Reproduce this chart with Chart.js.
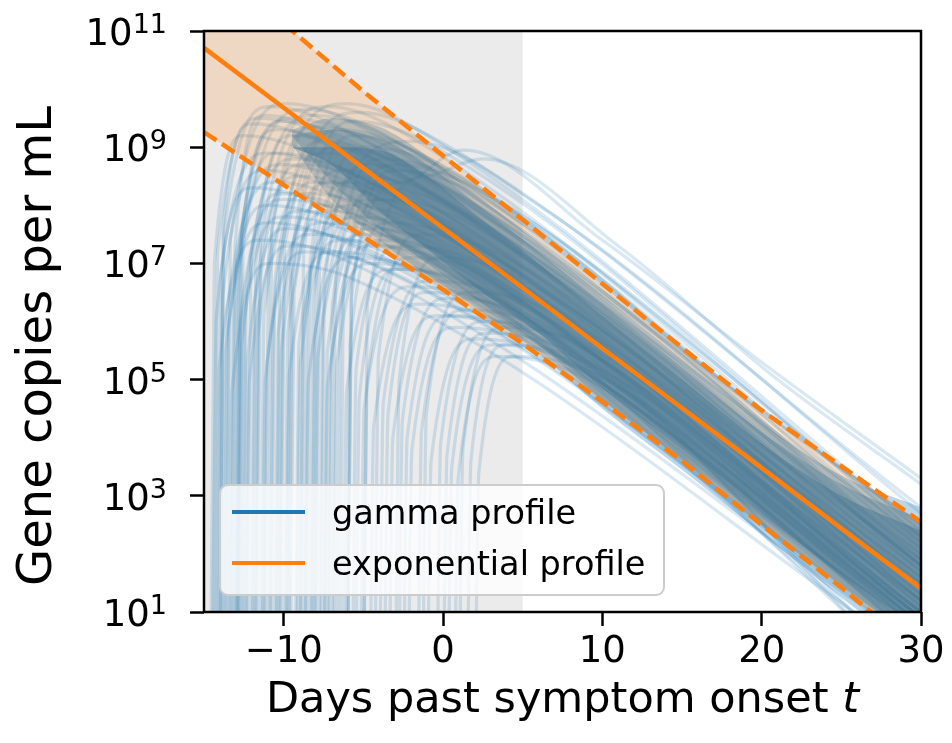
<!DOCTYPE html>
<html>
<head>
<meta charset="utf-8">
<script src="https://cdn.jsdelivr.net/npm/chart.js@4.4.1/dist/chart.umd.min.js"></script>
<style>
  html, body { margin: 0; padding: 0; background: #fff; }
  canvas { display: block; }
</style>
</head>
<body>
<canvas id="viral" width="952" height="743"></canvas>
<script>
/* viral load: sampled gamma profiles vs. fitted exponential decay */

// all loads are log10(copies / mL)
const FIT_DAYS = [-15, -10, -5, 0, 5, 10, 15, 20, 25, 30];
const FIT_MID  = [10.71, 9.68, 8.64, 7.61, 6.58, 5.54, 4.51, 3.48, 2.44, 1.41];
const FIT_HI   = [12.35, 11.13, 9.96, 8.855, 7.75, 6.65, 5.55, 4.47, 3.51, 2.55];
const FIT_LO   = [9.26, 8.35, 7.46, 6.55, 5.62, 4.62, 3.60, 2.50, 1.42, 0.30];

// where the sampled profiles pile up (three density levels)
const CORE_DAYS   = [-9.5, -7, -4, -1, 2, 6, 10, 15, 20, 25, 30];
const CORE_OUT_HI = [9.3, 9.5, 9.35, 8.85, 8.2, 7.35, 6.45, 5.35, 4.25, 3.35, 2.8];
const CORE_OUT_LO = [9.05, 8.1, 7.4, 6.8, 6.25, 5.45, 4.5, 3.45, 2.35, 1.25, 0.2];
const CORE_MID_HI = [9.2, 9.3, 9.15, 8.7, 8.05, 7.2, 6.3, 5.2, 4.1, 3.2, 2.6];
const CORE_MID_LO = [9.2, 8.4, 7.6, 7.0, 6.4, 5.6, 4.65, 3.6, 2.5, 1.45, 0.45];
const CORE_IN_HI  = [9.0, 9.0, 8.95, 8.5, 7.85, 7.0, 6.1, 5.0, 3.9, 3.0, 2.4];
const CORE_IN_LO  = [9.0, 8.7, 7.9, 7.25, 6.6, 5.8, 4.85, 3.8, 2.7, 1.65, 0.7];

// individual gamma profiles: day, load, day, load, ...
const PROFILES = [
  [-14.4,-1, -14.15,7.2, -11.5,9.5, -6.5,9.1, 30,2.3],
  [-14.0,-1, -13.75,7.5, -10.8,9.7, -5.8,9.25, 30,2.5],
  [-13.6,-1, -13.35,7.4, -9.8,9.75, -4.8,9.3, 30,2.1],
  [-13.2,-1, -12.95,7.0, -9.5,9.5, -4.5,9.05, 30,1.8],
  [-12.8,-1, -12.55,7.3, -8.6,9.65, -3.6,9.2, 30,2.2],
  [-12.3,-1, -12.05,7.1, -8.0,9.55, -3.0,9.1, 30,1.9],
  [-11.7,-1, -11.45,7.4, -7.2,9.7, -2.2,9.2, 30,2.2],
  [-11.0,-1, -10.75,7.6, -6.0,9.75, -1.0,9.2, 30,2.4],
  [-10.2,-1, -9.95,7.3, -5.2,9.6, -0.2,9.1, 30,2.8],
  [-6.0,-1, -5.75,6.6, -2.5,8.4, 1.3,8.95, 10,7.4, 20,5.3, 30,3.3],
  [-5.0,-1, -4.75,6.3, -1.0,8.5, 2.5,8.8, 11,7.3, 21,5.0, 30,3.2],
  [-8.0,-1, -7.75,7.0, -2.0,9.1, 6.0,8.0, 30,2.7],
  [-14.5,-1, -14.25,6.0, -12.0,8.3, -7.0,7.95, 30,1.0],
  [-14.2,-1, -13.95,6.8, -11.0,8.9, -6.0,8.5, 30,1.5],
  [-13.8,-1, -13.55,6.2, -10.5,8.4, -5.5,8.0, 30,1.2],
  [-13.4,-1, -13.15,6.5, -10.2,8.7, -5.2,8.3, 30,1.4],
  [-13.0,-1, -12.75,6.0, -10.0,8.1, -5.0,7.75, 30,0.8],
  [-12.6,-1, -12.35,6.6, -9.3,8.8, -4.3,8.4, 30,1.6],
  [-12.1,-1, -11.85,6.3, -9.0,8.5, -4.0,8.1, 30,1.3],
  [-11.5,-1, -11.25,6.1, -8.5,8.2, -3.5,7.85, 30,1.0],
  [-10.8,-1, -10.55,6.7, -7.5,8.9, -2.5,8.45, 30,1.7],
  [-10.3,-1, -10.05,6.2, -7.0,8.4, -2.0,8.0, 30,1.1],
  [-9.6,-1, -9.35,6.5, -6.3,8.6, -1.3,8.2, 30,1.4],
  [-9.0,-1, -8.75,6.0, -5.8,8.0, -0.8,7.6, 30,0.9],
  [-8.4,-1, -8.15,6.4, -5.0,8.5, 0.0,8.1, 30,1.6],
  [-7.8,-1, -7.55,6.1, -4.5,8.1, 0.5,7.7, 30,1.2],
  [-7.2,-1, -6.95,6.3, -4.0,8.3, 1.0,7.9, 30,1.5],
  [-14.3,-1, -14.05,5.2, -11.5,7.4, -6.5,7.1, 30,0.4],
  [-13.9,-1, -13.65,5.5, -11.0,7.7, -6.0,7.35, 30,0.7],
  [-13.5,-1, -13.25,4.8, -10.8,7.0, -5.8,6.75, 30,0.2],
  [-12.9,-1, -12.65,5.6, -10.0,7.8, -5.0,7.45, 30,0.8],
  [-12.4,-1, -12.15,5.0, -9.6,7.3, -4.6,7.0, 30,0.5],
  [-11.9,-1, -11.65,5.7, -9.0,7.9, -4.0,7.55, 30,0.9],
  [-11.3,-1, -11.05,5.3, -8.3,7.5, -3.3,7.15, 30,0.6],
  [-10.6,-1, -10.35,5.8, -7.6,8.0, -2.6,7.6, 30,1.0],
  [-9.9,-1, -9.65,5.1, -7.0,7.2, -2.0,6.9, 30,0.5],
  [-9.3,-1, -9.05,5.6, -6.3,7.7, -1.3,7.35, 30,0.9],
  [-8.7,-1, -8.45,5.0, -5.7,7.1, -0.7,6.8, 30,0.6],
  [-8.1,-1, -7.85,5.4, -5.0,7.5, 0.0,7.15, 30,0.9],
  [-7.5,-1, -7.25,4.9, -4.5,7.0, 0.5,6.7, 30,0.6],
  [-6.9,-1, -6.65,5.3, -3.8,7.4, 1.2,7.05, 30,1.0],
  [-6.3,-1, -6.05,4.8, -3.2,6.9, 1.8,6.6, 30,0.7],
  [-5.7,-1, -5.45,5.2, -2.6,7.3, 2.4,7.0, 30,1.1],
  [-5.2,-1, -4.95,4.5, -2.0,6.6, 3.0,6.3, 30,0.8],
  [-4.6,-1, -4.35,4.2, -1.5,6.3, 3.5,6.0, 30,0.6],
  [-4.0,-1, -3.75,4.6, -0.8,6.7, 4.2,6.4, 30,1.0],
  [-3.4,-1, -3.15,4.0, -0.3,6.1, 4.7,5.8, 30,0.5],
  [-2.8,-1, -2.55,4.3, 0.3,6.4, 5.3,6.1, 30,0.9],
  [-2.2,-1, -1.95,3.8, 0.8,5.9, 5.8,5.6, 30,0.5],
  [-1.6,-1, -1.35,4.1, 1.4,6.2, 6.4,5.9, 30,0.9],
  [-1.0,-1, -0.75,3.6, 2.0,5.7, 7.0,5.4, 30,0.5],
  [-0.4,-1, -0.15,3.9, 2.6,6.0, 7.6,5.7, 30,0.9],
  [0.3,-1, 0.55,3.5, 3.2,5.6, 8.2,5.3, 30,0.6],
  [1.0,-1, 1.25,3.8, 3.8,5.9, 8.8,5.6, 30,1.0],
  [2.0,-1, 2.25,3.4, 4.5,5.4, 9.5,5.1, 30,0.7],
  [-14.6,-1, -14.35,7.0, -12.5,9.2, -7.5,8.8, 30,1.9],
  [-13.0,-1, -12.75,7.2, -10.5,9.3, -5.5,8.9, 30,2.0],
  [-12.0,-1, -11.75,7.0, -9.5,9.2, -4.5,8.8, 30,1.8],
  [-11.2,-1, -10.95,7.1, -8.0,9.35, -3.0,8.95, 30,2.0],
  [-10.5,-1, -10.25,6.9, -7.6,9.1, -2.6,8.7, 30,1.8],
  [-9.8,-1, -9.55,7.0, -6.5,9.3, -1.5,8.9, 30,2.1],
  [-9.0,-1, -8.75,7.2, -5.5,9.45, -0.5,9.0, 30,2.3],
  [-8.2,-1, -7.95,6.8, -4.8,9.0, 0.2,8.6, 30,1.9],
  [-7.0,-1, -6.75,6.7, -3.8,8.8, 1.2,8.4, 30,1.8],
  [-6.0,-1, -5.75,6.4, -3.0,8.6, 2.0,8.2, 30,1.7],
  [-14.0,-1, -13.8,7.6, -12.0,9.4, -7.0,9.0, 30,1.6],
  [-13.3,-1, -13.05,7.3, -11.2,9.55, -6.2,9.1, 30,1.7],
  [-12.7,-1, -12.45,6.0, -10.2,8.2, -5.2,7.8, 30,0.0],
  [-10.0,-1, -9.75,5.8, -7.2,7.9, -2.2,7.5, 30,-0.2],
  [-7.5,-1, -7.25,5.5, -4.5,7.6, 0.5,7.2, 30,-0.1],
  [-5.0,-1, -4.75,5.0, -2.0,7.1, 3.0,6.75, 30,-0.3],
  [-12.9,-1, -12.65,7.5, -10.0,9.45, -5.0,9.0, 30,2.5],
  [-8.6,-1, -8.35,7.0, -5.5,9.2, -0.5,8.75, 30,2.4],
  [-6.5,-1, -6.25,6.6, -3.0,8.7, 2.0,8.3, 30,2.3],
  [-14.1,-1, -13.85,6.4, -11.2,8.6, -6.2,8.2, 30,1.2],
  [-13.7,-1, -13.45,5.9, -11.0,8.0, -6.0,7.65, 30,0.9],
  [-13.1,-1, -12.85,6.7, -10.4,8.9, -5.4,8.5, 30,1.5],
  [-12.5,-1, -12.25,5.4, -9.8,7.6, -4.8,7.25, 30,0.7],
  [-11.8,-1, -11.55,6.5, -8.8,8.7, -3.8,8.3, 30,1.4],
  [-11.4,-1, -11.15,5.0, -8.6,7.2, -3.6,6.9, 30,0.4],
  [-10.9,-1, -10.65,6.2, -8.0,8.4, -3.0,8.0, 30,1.2],
  [-10.4,-1, -10.15,5.5, -7.6,7.7, -2.6,7.35, 30,0.8],
  [-9.7,-1, -9.45,6.8, -6.8,9.0, -1.8,8.6, 30,1.8],
  [-9.2,-1, -8.95,5.3, -6.4,7.4, -1.4,7.1, 30,0.7],
  [-8.8,-1, -8.55,6.3, -5.9,8.4, -0.9,8.0, 30,1.3],
  [-8.3,-1, -8.05,5.7, -5.5,7.8, -0.5,7.45, 30,1.0],
  [-7.7,-1, -7.45,6.6, -4.8,8.7, 0.2,8.3, 30,1.8],
  [-7.3,-1, -7.05,5.2, -4.6,7.3, 0.4,7.0, 30,0.8],
  [-6.7,-1, -6.45,6.0, -3.8,8.1, 1.2,7.75, 30,1.4],
  [-6.1,-1, -5.85,5.6, -3.4,7.7, 1.6,7.35, 30,1.2],
  [-5.5,-1, -5.25,4.7, -2.8,6.9, 2.2,6.6, 30,0.8],
  [-4.3,-1, -4.05,5.4, -1.4,7.5, 3.6,7.15, 30,1.3],
  [-3.7,-1, -3.45,4.4, -1.0,6.5, 4.0,6.2, 30,0.8],
  [-3.0,-1, -2.75,5.0, -0.2,7.1, 4.8,6.75, 30,1.2],
  [-2.5,-1, -2.25,4.0, 0.5,6.1, 5.5,5.8, 30,0.7],
  [-1.3,-1, -1.05,4.4, 1.6,6.5, 6.6,6.2, 30,1.1],
  [0.0,-1, 0.25,3.7, 2.8,5.8, 7.8,5.5, 30,0.8],
  [0.7,-1, 0.95,3.3, 3.4,5.4, 8.4,5.1, 30,0.5],
  [1.5,-1, 1.75,3.6, 4.0,5.6, 9.0,5.3, 30,0.9]
];

const X_TICKS = [-10, 0, 10, 20, 30];
const Y_EXPONENTS = [1, 3, 5, 7, 9, 11];
const PRESYMPTOM = [-15, 5];   // shaded window, days

const BLUE = '#1f77b4', ORANGE = '#ff7f0e';
const FONT = "'DejaVu Sans', sans-serif";

const toPoints = (xs, logs) => xs.map((x, i) => ({ x, y: Math.pow(10, logs[i]) }));
function knots(flat) {
  const out = [];
  for (let i = 0; i < flat.length; i += 2) out.push({ x: flat[i], y: Math.pow(10, flat[i + 1]) });
  return out;
}

const dashed = { borderColor: ORANGE, borderWidth: 4.5, borderDash: [15, 6.5], order: 1, clip: 0 };
const hidden = { borderColor: 'transparent', borderWidth: 0, cubicInterpolationMode: 'monotone', order: 2, clip: 0 };
const coreFill = a => 'rgba(31,119,180,' + a + ')';

const datasets = [
  { data: toPoints(FIT_DAYS, FIT_MID), borderColor: ORANGE, borderWidth: 4.5, order: 0, clip: 0 },
  { ...dashed, data: toPoints(FIT_DAYS, FIT_HI), fill: 2, backgroundColor: 'rgba(255,127,14,0.18)' },
  { ...dashed, data: toPoints(FIT_DAYS, FIT_LO) },
  { ...hidden, data: toPoints(CORE_DAYS, CORE_OUT_HI), fill: 4, backgroundColor: coreFill(0.3) },
  { ...hidden, data: toPoints(CORE_DAYS, CORE_OUT_LO) },
  { ...hidden, data: toPoints(CORE_DAYS, CORE_MID_HI), fill: 6, backgroundColor: coreFill(0.35) },
  { ...hidden, data: toPoints(CORE_DAYS, CORE_MID_LO) },
  { ...hidden, data: toPoints(CORE_DAYS, CORE_IN_HI), fill: 8, backgroundColor: coreFill(0.5) },
  { ...hidden, data: toPoints(CORE_DAYS, CORE_IN_LO) },
  ...PROFILES.map(p => ({
    data: knots(p), borderColor: 'rgba(31,119,180,0.17)', borderWidth: 3.2,
    cubicInterpolationMode: 'monotone', order: 3, clip: 0
  }))
];

function drawLegend(ctx) {
  const x = 220, y = 485, w = 444, h = 110, r = 8;
  ctx.save();
  ctx.beginPath();
  ctx.roundRect(x, y, w, h, r);
  ctx.fillStyle = 'rgba(255,255,255,0.8)';
  ctx.fill();
  ctx.lineWidth = 2;
  ctx.strokeStyle = '#cccccc';
  ctx.stroke();
  const rows = [['gamma profile', BLUE, 512], ['exponential profile', ORANGE, 563]];
  ctx.font = '33.5px ' + FONT;
  ctx.textBaseline = 'alphabetic';
  ctx.textAlign = 'left';
  rows.forEach(([text, color, ly]) => {
    ctx.beginPath();
    ctx.moveTo(232, ly); ctx.lineTo(305, ly);
    ctx.lineWidth = 4; ctx.strokeStyle = color; ctx.stroke();
    ctx.fillStyle = '#000';
    ctx.fillText(text, 332, ly + 12);
  });
  ctx.restore();
}

const frame = {
  id: 'frame',
  beforeDatasetsDraw(chart) {
    const { ctx, chartArea: a, scales: { x } } = chart;
    const x0 = x.getPixelForValue(PRESYMPTOM[0]), x1 = x.getPixelForValue(PRESYMPTOM[1]);
    ctx.save();
    ctx.fillStyle = '#ebebeb';
    ctx.fillRect(x0, a.top, x1 - x0, a.bottom - a.top);
    ctx.restore();
  },
  afterDatasetsDraw(chart) {
    const { ctx, chartArea: a } = chart;
    ctx.save();
    ctx.lineWidth = 2.5;
    ctx.strokeStyle = '#000';
    ctx.strokeRect(a.left, a.top, a.right - a.left, a.bottom - a.top);
    ctx.restore();
  },
  afterDraw(chart) {
    const { ctx, chartArea: a, scales: { y } } = chart;
    ctx.save();
    ctx.fillStyle = '#000';
    ctx.textBaseline = 'alphabetic';
    ctx.textAlign = 'left';
    // y tick labels as 10^n
    const right = a.left - 37;
    Y_EXPONENTS.forEach(e => {
      const py = y.getPixelForValue(Math.pow(10, e));
      ctx.font = '27px ' + FONT;
      const ew = ctx.measureText(String(e)).width;
      ctx.font = '37px ' + FONT;
      const bw = ctx.measureText('10').width;
      ctx.fillText('10', right - ew - bw, py + 14);
      ctx.font = '27px ' + FONT;
      ctx.fillText(String(e), right - ew, py + 2);
    });
    // x title with italic t
    const cx = (a.left + a.right) / 2;
    ctx.font = '43px ' + FONT;
    const head = 'Days past symptom onset ';
    const hw = ctx.measureText(head).width;
    ctx.font = 'italic 43px ' + FONT;
    const tw = ctx.measureText('t').width;
    const sx = cx - (hw + tw) / 2;
    ctx.font = '43px ' + FONT;
    ctx.fillText(head, sx, 712);
    ctx.font = 'italic 43px ' + FONT;
    ctx.fillText('t', sx + hw, 712);
    // y title
    ctx.translate(51, 346);
    ctx.rotate(-Math.PI / 2);
    ctx.textAlign = 'center';
    ctx.textBaseline = 'alphabetic';
    ctx.font = '48px ' + FONT;
    ctx.fillText('Gene copies per mL', 0, 0);
    ctx.restore();
    drawLegend(ctx);
  }
};

const tickGrid = { drawOnChartArea: false, tickLength: 14, tickWidth: 2.5, tickColor: '#000' };

new Chart(document.getElementById('viral'), {
  type: 'line',
  data: { datasets },
  options: {
    responsive: false, animation: false, devicePixelRatio: 1,
    layout: { padding: { left: 0, top: 31, right: 31, bottom: 0 } },
    elements: { point: { radius: 0 }, line: { tension: 0 } },
    plugins: { legend: { display: false }, tooltip: { enabled: false } },
    scales: {
      x: {
        type: 'linear', min: -15, max: 30,
        afterBuildTicks: s => { s.ticks = X_TICKS.map(value => ({ value })); },
        afterFit: s => { s.height = 131; },
        ticks: {
          color: '#000', font: { family: FONT, size: 37 }, padding: 4, maxRotation: 0, autoSkip: false,
          callback: v => v < 0 ? '\u2212' + Math.abs(v) : String(v)
        },
        grid: tickGrid,
        border: { display: false }
      },
      y: {
        type: 'logarithmic', min: 10, max: 1e11,
        afterBuildTicks: s => { s.ticks = Y_EXPONENTS.map(e => ({ value: Math.pow(10, e) })); },
        afterFit: s => { s.width = 204; },
        ticks: { callback: () => '' },
        grid: tickGrid,
        border: { display: false }
      }
    }
  },
  plugins: [frame]
});
</script>
</body>
</html>
